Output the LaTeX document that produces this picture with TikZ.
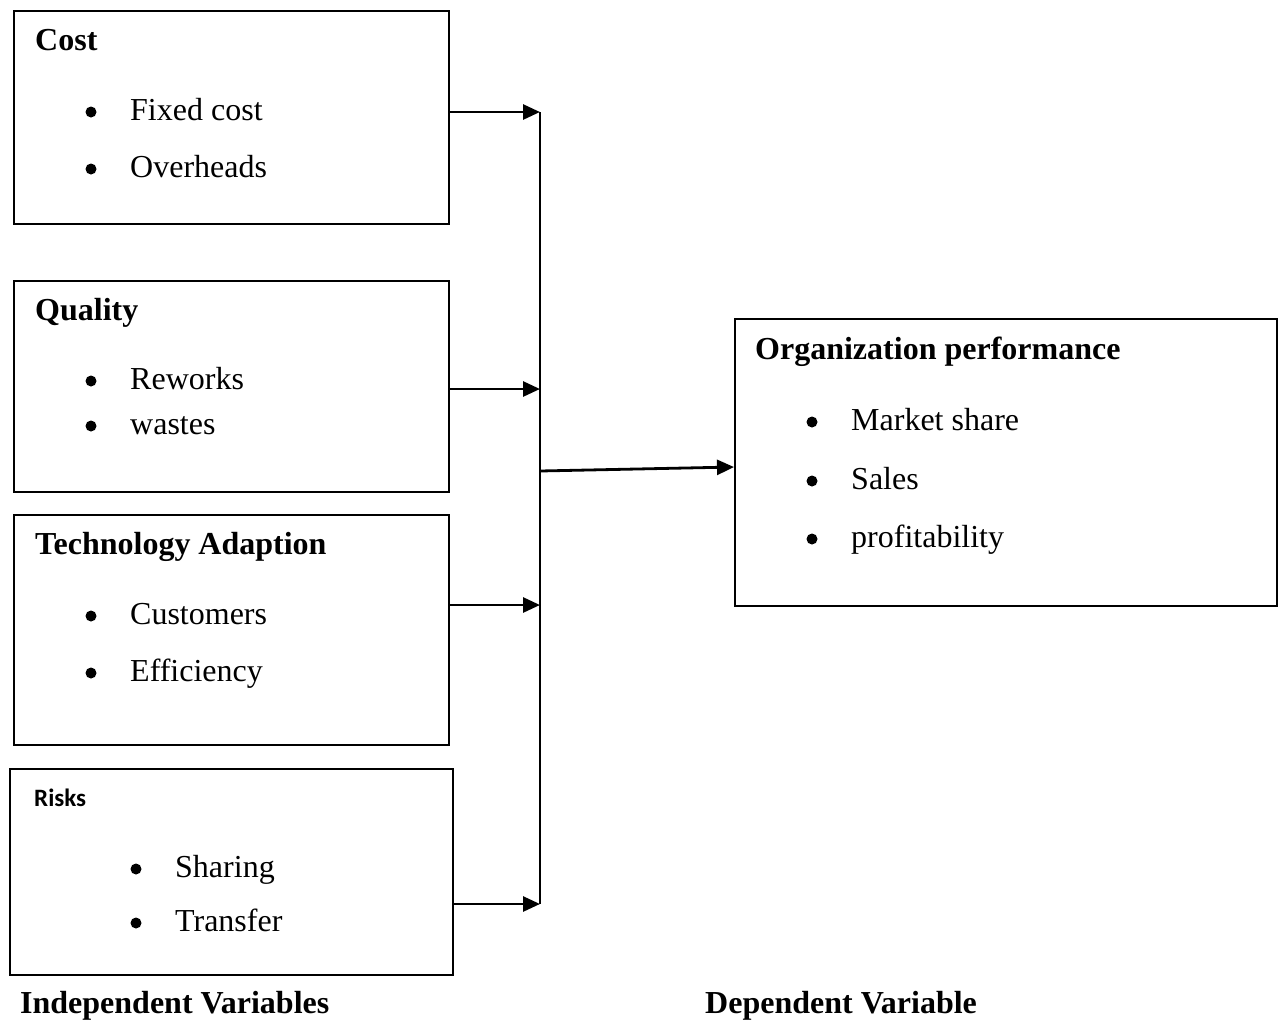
\documentclass[tikz,border=0pt]{standalone}
\usepackage{fontspec}
\setmainfont{Liberation Serif}
\newfontfamily\calfont{Carlito}
\usetikzlibrary{arrows.meta}
\begin{document}
\begin{tikzpicture}[x=1pt,y=-1pt,
  box/.style={draw, line width=2pt, anchor=north west, inner sep=0pt},
  ttl/.style={anchor=base west, inner sep=0pt, font=\fontsize{32}{38}\selectfont\bfseries},
  item/.style={anchor=base west, inner sep=0pt, font=\fontsize{32}{38}\selectfont},
  dot/.style={circle, fill, inner sep=0pt, minimum size=11pt},
  arr/.style={line width=2.8pt, -{Triangle[length=17pt,width=15pt]}},
  bus/.style={line width=2.8pt}]
\useasboundingbox (0,0) rectangle (1283,1021);
% boxes
\node[box, minimum width=435pt, minimum height=213pt] (cost) at (13,10) {};
\node[box, minimum width=435pt, minimum height=211pt] (qual) at (13,280) {};
\node[box, minimum width=435pt, minimum height=230pt] (tech) at (13,514) {};
\node[box, minimum width=443pt, minimum height=206pt] (risk) at (9,768) {};
\node[box, minimum width=542pt, minimum height=287pt] (org) at (734,318) {};
% texts
\node[ttl] (t1) at (35,50) {Cost};
\node[dot] (d11) at (91,112) {};
\node[item] (i11) at (130,120) {Fixed cost};
\node[dot] (d12) at (91,169) {};
\node[item] (i12) at (130,177) {Overheads};
\node[ttl] (t2) at (35,320) {Quality};
\node[dot] (d21) at (91,381) {};
\node[item] (i21) at (130,389) {Reworks};
\node[dot] (d22) at (91,426) {};
\node[item] (i22) at (130,434) {wastes};
\node[ttl] (t3) at (35,554) {Technology Adaption};
\node[dot] (d31) at (91,616) {};
\node[item] (i31) at (130,624) {Customers};
\node[dot] (d32) at (91,673) {};
\node[item] (i32) at (130,681) {Efficiency};
\node[anchor=base west, inner sep=0pt, font=\fontsize{25}{30}\calfont\bfseries] (t4) at (34,806) {Risks};
\node[dot] (d41) at (136,869) {};
\node[item] (i41) at (175,877) {Sharing};
\node[dot] (d42) at (136,923) {};
\node[item] (i42) at (175,931) {Transfer};
\node[ttl] (t5) at (755,359) {Organization performance};
\node[dot] (d51) at (812,422) {};
\node[item] (i51) at (851,430) {Market share};
\node[dot] (d52) at (812,481) {};
\node[item] (i52) at (851,489) {Sales};
\node[dot] (d53) at (812,539) {};
\node[item] (i53) at (851,547) {profitability};
\node[ttl] (f1) at (20,1013) {Independent Variables};
\node[ttl] (f2) at (705,1013) {Dependent Variable};
% connectors
\coordinate (b1) at (540,112);
\coordinate (b2) at (540,389);
\coordinate (b3) at (540,605);
\coordinate (b4) at (540,904);
\coordinate (bm) at (540,471);
\coordinate (om) at (734,467);
\draw[bus] (b1) -- (b4);
\draw[arr] (cost.east |- b1) -- (b1);
\draw[arr] (qual.east |- b2) -- (b2);
\draw[arr] (tech.east |- b3) -- (b3);
\draw[arr] ([xshift=-2pt]risk.east |- b4) -- (b4);
\draw[arr] (bm) -- (org.west |- om);
\end{tikzpicture}
\end{document}
